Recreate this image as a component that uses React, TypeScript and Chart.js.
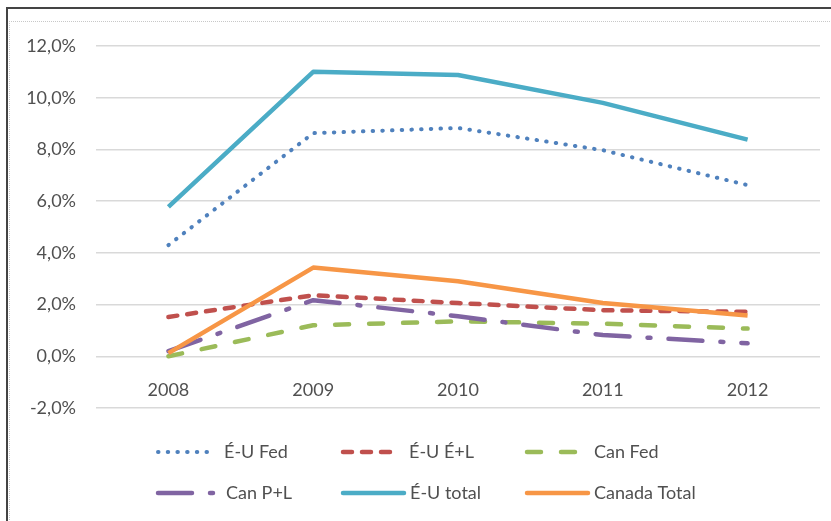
import React, { useEffect, useRef } from "react";
import { Chart, registerables } from "chart.js";

Chart.register(...registerables);

const categories = ["2008", "2009", "2010", "2011", "2012"];
const seriesNames = ["É-U Fed", "É-U É+L", "Can Fed", "Can P+L", "É-U total", "Canada Total"];
const euFed = [4.3, 8.63, 8.83, 7.97, 6.62];
const euEL = [1.52, 2.36, 2.06, 1.78, 1.72];
const canFed = [0.0, 1.2, 1.35, 1.26, 1.07];
const canPL = [0.2, 2.17, 1.55, 0.82, 0.5];
const euTotal = [5.78, 11.0, 10.88, 9.8, 8.38];
const canTotal = [0.12, 3.43, 2.9, 2.06, 1.58];
const yTicks = { min: -2, max: 12, step: 2 };

const FONT = "Lato, 'Open Sans', sans-serif";
const TEXT = "#505050";

const legendPlugin = {
  id: "gridLegend",
  afterDraw(chart: any, _args: any, opts: any) {
    const ctx = chart.ctx;
    const cols = opts.cols as number[];
    const textCols = opts.textCols as number[];
    const rows = opts.rows as number[];
    const sampleLen = opts.sampleLen as number[];
    ctx.save();
    chart.data.datasets.forEach((ds: any, i: number) => {
      const c = i % 3;
      const r = Math.floor(i / 3);
      const x = cols[c];
      const y = rows[r];
      const len = sampleLen[i];
      ctx.beginPath();
      ctx.strokeStyle = ds.borderColor;
      ctx.lineWidth = ds.borderWidth;
      ctx.lineCap = "round";
      ctx.setLineDash(ds.borderDash || []);
      ctx.moveTo(x, y);
      ctx.lineTo(x + len, y);
      ctx.stroke();
      ctx.setLineDash([]);
      ctx.fillStyle = TEXT;
      ctx.font = "18px " + FONT;
      ctx.textBaseline = "middle";
      ctx.textAlign = "left";
      ctx.fillText(ds.label, textCols[i], y);
    });
    ctx.restore();
  },
};

export default function App() {
  const ref = useRef<HTMLCanvasElement | null>(null);
  useEffect(() => {
    if (!ref.current) return;
    const mk = (label: string, data: number[], color: string, width: number, dash: number[], order: number) => ({
      label,
      data,
      borderColor: color,
      backgroundColor: color,
      borderWidth: width,
      borderDash: dash,
      borderCapStyle: dash.length ? "round" : "butt",
      borderJoinStyle: "round",
      pointRadius: 0,
      tension: 0,
      order,
    });
    const chart = new Chart(ref.current, {
      type: "line",
      data: {
        labels: categories,
        datasets: [
          mk(seriesNames[0], euFed, "#4f81bd", 4, [0.5, 9.2], 6),
          mk(seriesNames[1], euEL, "#c0504d", 4.5, [9, 10], 5),
          mk(seriesNames[2], canFed, "#9bbb59", 4.5, [14, 20], 4),
          mk(seriesNames[3], canPL, "#8064a2", 4.5, [34, 18, 3, 18], 3),
          mk(seriesNames[4], euTotal, "#4bacc6", 4.5, [], 2),
          mk(seriesNames[5], canTotal, "#f79646", 4.5, [], 1),
        ],
      } as any,
      plugins: [legendPlugin],
      options: {
        animation: false,
        responsive: false,
        maintainAspectRatio: false,
        layout: { padding: { top: 46, right: 11, bottom: 113, left: 0 } },
        plugins: {
          legend: { display: false },
          tooltip: { enabled: false },
          gridLegend: {
            cols: [158, 343, 527],
            textCols: [224, 409, 594, 226, 410, 594],
            rows: [452, 493],
            sampleLen: [53, 53, 52, 60, 61, 61],
          },
        } as any,
        scales: {
          x: {
            position: { y: 0 } as any,
            offset: true,
            grid: { display: false },
            border: { display: false },
            ticks: { color: TEXT, font: { family: FONT, size: 18 }, padding: 15, maxRotation: 0 },
          },
          y: {
            min: yTicks.min,
            max: yTicks.max,
            afterFit: (s: any) => { s.width = 96; },
            grid: { color: "#d9d9d9", lineWidth: 1.5, drawTicks: false },
            border: { display: false },
            ticks: {
              stepSize: yTicks.step,
              color: TEXT,
              font: { family: FONT, size: 18 },
              padding: 20,
              callback: (v: any) => Number(v).toFixed(1).replace(".", ",") + "%",
            },
          },
        },
      } as any,
    });
    return () => chart.destroy();
  }, []);
  return (
    <div style={{ position: "absolute", left: 0, top: 0, width: 831, height: 521, background: "#fff", overflow: "hidden" }}>
      <div style={{ position: "absolute", left: 6, top: 7, width: 830, height: 520, borderTop: "2px solid #444", borderLeft: "2px solid #444" }} />
      <div style={{ position: "absolute", left: 9, top: 21, width: 830, height: 520, borderTop: "1px dotted #c8c8c8", borderLeft: "1px dotted #c8c8c8" }} />
      <canvas ref={ref} width={831} height={521} style={{ position: "absolute", left: 0, top: 0, width: 831, height: 521 }} />
    </div>
  );
}
